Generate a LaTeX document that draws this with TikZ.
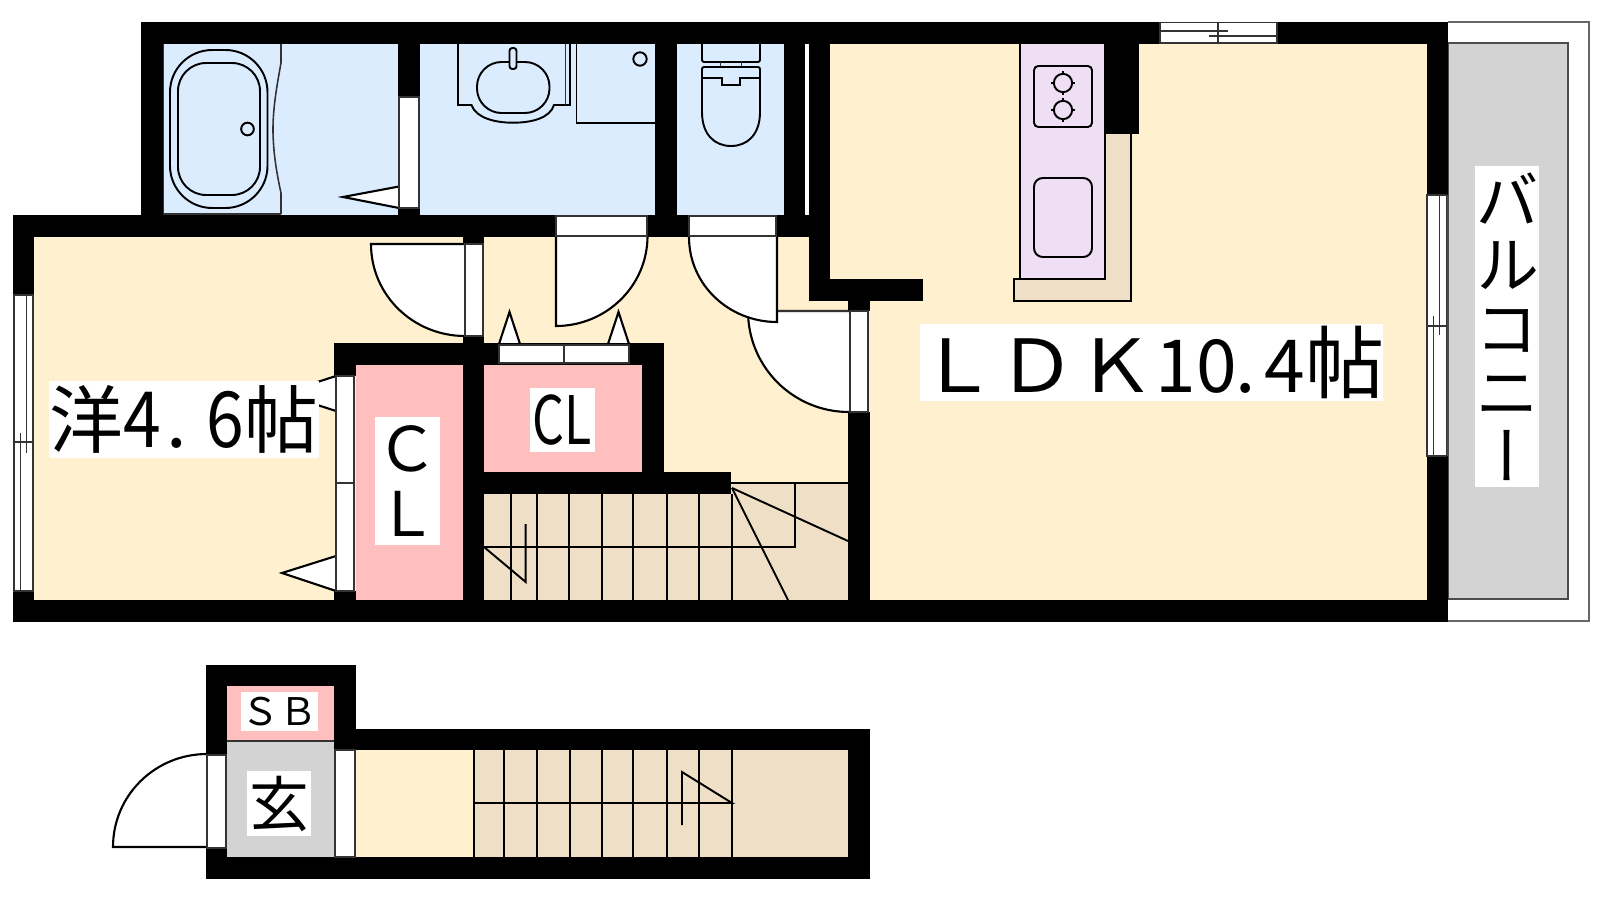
\documentclass[tikz,border=0pt]{standalone}
\usepackage{fontspec}
\setmainfont{Noto Sans CJK JP}
\newfontfamily\jpvert[RawFeature=+vert]{Noto Sans CJK JP}
\definecolor{cream}{HTML}{FFF0CF}
\definecolor{beige}{HTML}{EFDFC6}
\definecolor{bathblue}{HTML}{DCECFF}
\definecolor{closetpink}{HTML}{FFBFBF}
\definecolor{lilac}{HTML}{EEDFF5}
\definecolor{floorgrey}{HTML}{D3D3D3}
\newcommand{\fsize}[1]{\fontsize{#1}{#1}\selectfont}
\tikzset{
  thinline/.style={draw=black!80,line width=0.45pt},
  fixture/.style={draw=black,line width=0.55pt},
  jamb/.style={fill=white,thinline},
  leaf/.style={fill=white,draw=black,line width=0.6pt},
  roomtag/.style={fill=white,inner sep=0pt,align=center,text=black},
}
\begin{document}
\begin{tikzpicture}[x=0.01cm,y=-0.01cm]
\useasboundingbox (0,0) rectangle (1600,900);
\fill[cream] (34,237) rectangle (848,600);
\fill[cream] (830,43) rectangle (1427,600);
\fill[cream] (356,750) rectangle (848,857);
\fill[bathblue] (163,43) rectangle (398,215);
\fill[bathblue] (420,43) rectangle (655,215);
\fill[bathblue] (677,43) rectangle (784,215);
\fill[closetpink] (356,365) rectangle (463,600);
\fill[closetpink] (484,365) rectangle (642,472);
\fill[closetpink] (227,686) rectangle (334,741);
\fill[floorgrey] (227,741) rectangle (334,857);
\draw[thinline] (227,741) -- (334,741);
\fill[beige] (484,494) rectangle (848,600);
\fill[beige] (731,483) rectangle (848,494);
\fill[beige] (474,750) rectangle (848,857);
% balcony
\draw[black!60] (1448,22) -- (1589,22) -- (1589,621) -- (1448,621);
\draw[fill=floorgrey,draw=black!70] (1448,43) rectangle (1568,599);
% kitchen
\draw[fixture,fill=lilac] (1020,43) rectangle (1105,279);
\draw[fixture,fill=beige] (1105,133) -- (1131,133) -- (1131,301) -- (1014,301) -- (1014,279) -- (1105,279) -- cycle;
\draw[fixture,rounded corners=1.2pt] (1034,66) rectangle (1092,127);
\draw[fixture,rounded corners=2.5pt] (1034,178) rectangle (1092,257);
\foreach \y in {83,110} {
  \draw[fixture] (1063,\y) circle (2.6pt);
  \draw[fixture] (1063,\y-12) -- (1063,\y-8) (1063,\y+8) -- (1063,\y+12) (1051,\y) -- (1055,\y) (1071,\y) -- (1075,\y);
}
% bath
\draw[thinline] (281,214) -- (163.5,214) -- (163.5,43) -- (281,43);
\draw[thinline] (281,43) -- (281,63) .. controls (276,90) and (273,110) .. (273,129) .. controls (273,150) and (276,170) .. (281,193) -- (281,214);
\draw[fixture,rounded corners=12pt] (170,50) rectangle (267.5,208);
\draw[fixture,rounded corners=8pt] (178,63) rectangle (260,195);
\draw[fixture] (247.5,129) circle (1.8pt);
% wash
\draw[fixture] (458,43) -- (458,105) -- (471.5,105) .. controls (476,118) and (495,122.7) .. (513,122.7) .. controls (532,122.7) and (550,118) .. (554,105) -- (570,105) -- (570,43);
\draw[thinline] (565.5,43) -- (565.5,105);
\draw[fixture,rounded corners=7pt] (477,62) rectangle (549.5,113);
\draw[fixture,fill=bathblue,rounded corners=0.8pt] (509.5,48) rectangle (516.5,69);
\draw[fixture] (576.5,43) -- (576.5,123) -- (655,123);
\draw[fixture] (640,59) circle (1.9pt);
% toilet
\draw[fixture,rounded corners=0.6pt] (702,43) -- (702,62) -- (760,62) -- (760,43);
\draw[thinline] (720.5,62) -- (720.5,67) (741.5,62) -- (741.5,67);
\draw[fixture,rounded corners=0.6pt] (702,78) -- (702,67) -- (760,67) -- (760,78);
\draw[fixture] (702,78) -- (702,112) .. controls (702,135) and (715,146) .. (731,146) .. controls (747,146) and (760,135) .. (760,112) -- (760,78);
\draw[fixture] (702,78) -- (722,78) -- (722,85) -- (740,85) -- (740,78) -- (760,78);
% stairs
\foreach \x in {511,537,569,602,633,667,699,732} \draw[fixture] (\x,494) -- (\x,600);
\foreach \x in {474,504,537,570,602,633,667,699,732} \draw[fixture] (\x,750) -- (\x,857);
\draw[fixture] (484,547) -- (795,547) -- (795,483) -- (731,483);
\draw[fixture] (795,483) -- (848,483);
\draw[fixture] (732,488) -- (848,541);
\draw[fixture] (732,488) -- (788,600);
\draw[fixture] (484,547) -- (525.7,582) -- (525.7,524);
\draw[fixture] (474,803) -- (732,803) -- (682,772) -- (682,825);
% closet and room door arrows
\draw[leaf] (336,376) -- (282,393.5) -- (336,411);
\draw[leaf] (336,556) -- (282,573) -- (336,591);
\draw[leaf] (399,186.5) -- (343,197) -- (399,208);
\draw[leaf] (499,344) -- (509.5,312) -- (520,344);
\draw[leaf] (608,344) -- (618.5,312) -- (629,344);
% door leaves
\draw[leaf] (849,311) -- (748,311) to[out=-90,in=180] (849,412);
\draw[thinline] (777,311) -- (849,311);
\draw[leaf] (777,237) -- (777,322) to[out=180,in=-90] (689,237);
\draw[leaf] (556,236) -- (556,326) to[out=0,in=-90] (647.5,236);
\draw[leaf] (465,244) -- (371,244) to[out=-90,in=180] (465,336);
\draw[leaf] (207,847) -- (113,847) to[out=90,in=180] (207,754);
% walls
\foreach \xa/\ya/\xb/\yb in {141/22/1448/44,141/22/163/215,13/215/809/237,13/215/34/295,13/591/34/622,13/600/1448/622,398/22/420/97,398/207/420/215,655/22/677/215,784/22/804.5/215,809/22/830/301,809/279/923/301,848/300/870/311,848/412/870/622,463/237/484/244,463/336/484/622,334/343/664/365,334/343/356/376,334/591/356/600,642/343/664/494,463/472/731/494,1105/22/1139/134,1427/22/1448/195,1427/456/1448/622,206/665/356/686,206/665/227/755,206/848/227/879,334/665/356/750,334/729/870/750,206/857/870/879,848/729/870/879}
  \fill[black] (\xa,\ya) rectangle (\xb,\yb);
% jambs
\draw[jamb] (399,97) rectangle (419,208);
\draw[jamb] (556,216) rectangle (647,236);
\draw[jamb] (689,216) rectangle (776,236);
\draw[jamb] (465,244) rectangle (483,336);
\draw[jamb] (850,311) rectangle (868,412);
\draw[jamb] (336,376) rectangle (354,483);
\draw[jamb] (336,483) rectangle (354,591);
\draw[jamb] (499,345) rectangle (564,363);
\draw[jamb] (564,345) rectangle (629,363);
\draw[jamb] (207,755) rectangle (226,848);
\draw[jamb] (335,750) rectangle (355,857);
% windows
\draw[jamb] (1160,22.5) rectangle (1277,43);
\draw[thinline] (1160,31) -- (1228,31) (1209,36) -- (1277,36) (1218,22.5) -- (1218,43);
\draw[jamb] (14,295) rectangle (33,591);
\draw[thinline] (20.7,433) -- (20.7,591) (26.7,295) -- (26.7,453) (14,442) -- (33,442);
\draw[jamb] (1427,195) rectangle (1446.5,456);
\draw[thinline] (1439.5,195) -- (1439.5,335) (1433.5,316) -- (1433.5,456) (1427,326) -- (1446.5,326);
% labels
\node[roomtag,minimum width=2.7cm,minimum height=0.77cm,font=\fsize{21pt}] (westroom) at (184,419.5) {洋\scalebox{0.92}[1.05]{4}\kern1.5pt.\kern5.5pt\scalebox{0.92}[1.05]{6}帖};
\node[roomtag,minimum width=4.63cm,minimum height=0.77cm,font=\fsize{20.8pt}] (ldkroom) at (1151.5,362.5) {\makebox[4.63cm]{\scalebox{1.08}[1]{ＬＤＫ}10\kern-0.5pt.\kern2.5pt 4{\fsize{22.5pt}帖}}};
\node[roomtag,minimum width=0.65cm,minimum height=1.28cm,font=\fsize{17.5pt},execute at begin node={\baselineskip=18.5pt}] (closetwest) at (407.5,481) {Ｃ\\Ｌ};
\node[roomtag,minimum width=0.65cm,minimum height=0.64cm,font=\fsize{19pt}] (closetnorth) at (562.5,420) {\scalebox{0.75}[1]{CL}};
\node[roomtag,minimum width=0.77cm,minimum height=0.39cm,font=\fsize{10.8pt}] (shoebox) at (279.5,711.5) {ＳＢ};
\node[roomtag,minimum width=0.64cm,minimum height=0.65cm,font=\fsize{17pt}] (entrance) at (279,803.5) {玄};
\node[roomtag,minimum width=0.64cm,minimum height=3.21cm,font=\fsize{18.2pt}\jpvert] (balcony) at (1507,326.5) {バ\\ル\\コ\\ニ\\ー};
\end{tikzpicture}
\end{document}
